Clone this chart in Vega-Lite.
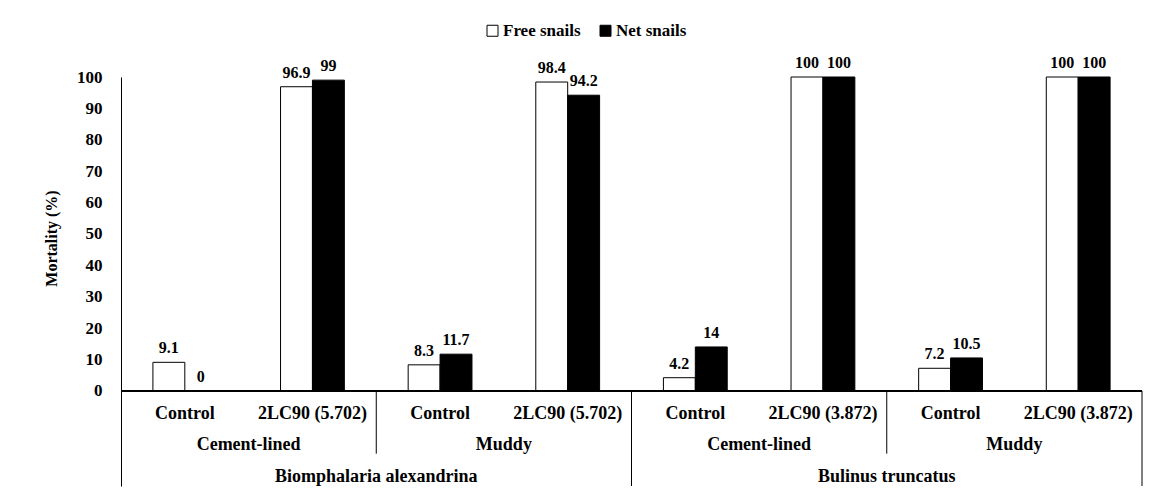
{
  "$schema": "https://vega.github.io/schema/vega-lite/v6.json",
  "width": 1021,
  "height": 409,
  "autosize": {"type": "none"},
  "padding": {"left": 121, "top": 77, "right": 12, "bottom": 11},
  "background": "white",
  "config": {"view": {"stroke": null}, "font": "Liberation Serif"},
  "data": {
    "values": [
      {"group": "Biomphalaria alexandrina|Cement-lined|Control", "species": "Biomphalaria alexandrina", "habitat": "Cement-lined", "treatment": "Control", "series": "Free snails", "mortality": 9.1},
      {"group": "Biomphalaria alexandrina|Cement-lined|Control", "species": "Biomphalaria alexandrina", "habitat": "Cement-lined", "treatment": "Control", "series": "Net snails", "mortality": 0},
      {"group": "Biomphalaria alexandrina|Cement-lined|2LC90", "species": "Biomphalaria alexandrina", "habitat": "Cement-lined", "treatment": "2LC90 (5.702)", "series": "Free snails", "mortality": 96.9},
      {"group": "Biomphalaria alexandrina|Cement-lined|2LC90", "species": "Biomphalaria alexandrina", "habitat": "Cement-lined", "treatment": "2LC90 (5.702)", "series": "Net snails", "mortality": 99},
      {"group": "Biomphalaria alexandrina|Muddy|Control", "species": "Biomphalaria alexandrina", "habitat": "Muddy", "treatment": "Control", "series": "Free snails", "mortality": 8.3},
      {"group": "Biomphalaria alexandrina|Muddy|Control", "species": "Biomphalaria alexandrina", "habitat": "Muddy", "treatment": "Control", "series": "Net snails", "mortality": 11.7},
      {"group": "Biomphalaria alexandrina|Muddy|2LC90", "species": "Biomphalaria alexandrina", "habitat": "Muddy", "treatment": "2LC90 (5.702)", "series": "Free snails", "mortality": 98.4},
      {"group": "Biomphalaria alexandrina|Muddy|2LC90", "species": "Biomphalaria alexandrina", "habitat": "Muddy", "treatment": "2LC90 (5.702)", "series": "Net snails", "mortality": 94.2},
      {"group": "Bulinus truncatus|Cement-lined|Control", "species": "Bulinus truncatus", "habitat": "Cement-lined", "treatment": "Control", "series": "Free snails", "mortality": 4.2},
      {"group": "Bulinus truncatus|Cement-lined|Control", "species": "Bulinus truncatus", "habitat": "Cement-lined", "treatment": "Control", "series": "Net snails", "mortality": 14},
      {"group": "Bulinus truncatus|Cement-lined|2LC90", "species": "Bulinus truncatus", "habitat": "Cement-lined", "treatment": "2LC90 (3.872)", "series": "Free snails", "mortality": 100},
      {"group": "Bulinus truncatus|Cement-lined|2LC90", "species": "Bulinus truncatus", "habitat": "Cement-lined", "treatment": "2LC90 (3.872)", "series": "Net snails", "mortality": 100},
      {"group": "Bulinus truncatus|Muddy|Control", "species": "Bulinus truncatus", "habitat": "Muddy", "treatment": "Control", "series": "Free snails", "mortality": 7.2},
      {"group": "Bulinus truncatus|Muddy|Control", "species": "Bulinus truncatus", "habitat": "Muddy", "treatment": "Control", "series": "Net snails", "mortality": 10.5},
      {"group": "Bulinus truncatus|Muddy|2LC90", "species": "Bulinus truncatus", "habitat": "Muddy", "treatment": "2LC90 (3.872)", "series": "Free snails", "mortality": 100},
      {"group": "Bulinus truncatus|Muddy|2LC90", "species": "Bulinus truncatus", "habitat": "Muddy", "treatment": "2LC90 (3.872)", "series": "Net snails", "mortality": 100}
    ]
  },
  "layer": [
    {
      "mark": {"type": "bar", "stroke": "black", "strokeWidth": 1},
      "encoding": {
        "x": {"field": "group", "type": "nominal", "sort": null, "scale": {"paddingInner": 0, "paddingOuter": 0}, "axis": null},
        "xOffset": {"field": "series", "type": "nominal", "sort": null, "scale": {"paddingInner": 0, "paddingOuter": 1}},
        "y": {
          "field": "mortality", "type": "quantitative",
          "scale": {"domain": [-30.3, 100], "nice": false, "zero": false},
          "axis": {
            "title": "Mortality (%)",
            "values": [0, 10, 20, 30, 40, 50, 60, 70, 80, 90, 100],
            "ticks": false, "grid": false,
            "domainColor": "black", "domainWidth": 1,
            "labelFont": "Liberation Serif", "labelFontWeight": "bold", "labelFontSize": 17, "labelColor": "black", "labelPadding": 19,
            "titleFont": "Liberation Serif", "titleFontWeight": "bold", "titleFontSize": 16, "titleColor": "black",
            "titleX": -70, "titleY": 161, "titleAngle": -90, "titleAlign": "center", "titleBaseline": "middle"
          }
        },
        "y2": {"datum": 0},
        "fill": {
          "field": "series", "type": "nominal",
          "scale": {"domain": ["Free snails", "Net snails"], "range": ["white", "black"]},
          "legend": {
            "orient": "none", "legendX": 363, "legendY": -55, "direction": "horizontal", "title": null,
            "symbolType": "square", "symbolSize": 121, "symbolStrokeColor": "black", "symbolStrokeWidth": 1,
            "labelFont": "Liberation Serif", "labelFontWeight": "bold", "labelFontSize": 17, "labelColor": "black",
            "labelOffset": 2, "columnPadding": 16
          }
        }
      }
    },
    {
      "mark": {"type": "text", "baseline": "alphabetic", "dy": -9, "fontSize": 16, "fontWeight": "bold", "font": "Liberation Serif", "color": "black"},
      "encoding": {
        "x": {"field": "group", "type": "nominal", "sort": null},
        "xOffset": {"field": "series", "type": "nominal", "sort": null},
        "y": {"field": "mortality", "type": "quantitative"},
        "text": {"field": "mortality", "type": "quantitative"}
      }
    },
    {
      "mark": {"type": "rule", "color": "black", "strokeWidth": 1},
      "encoding": {"y": {"datum": 0}}
    },
    {
      "transform": [{"filter": "datum.series === 'Free snails' && datum.habitat === 'Muddy' && datum.treatment === 'Control'"}],
      "mark": {"type": "rule", "color": "black", "strokeWidth": 1},
      "encoding": {
        "x": {"field": "group", "type": "nominal", "sort": null, "bandPosition": 0},
        "y": {"datum": 0},
        "y2": {"datum": -20}
      }
    },
    {
      "transform": [{"filter": "datum.series === 'Free snails' && datum.species === 'Bulinus truncatus' && datum.habitat === 'Cement-lined' && datum.treatment === 'Control'"}],
      "mark": {"type": "rule", "color": "black", "strokeWidth": 1},
      "encoding": {
        "x": {"field": "group", "type": "nominal", "sort": null, "bandPosition": 0},
        "y": {"datum": 0},
        "y2": {"datum": -30.3}
      }
    },
    {
      "transform": [{"filter": "datum.series === 'Free snails' && datum.species === 'Bulinus truncatus' && datum.habitat === 'Muddy' && datum.treatment !== 'Control'"}],
      "mark": {"type": "rule", "color": "black", "strokeWidth": 1},
      "encoding": {
        "x": {"field": "group", "type": "nominal", "sort": null, "bandPosition": 1},
        "y": {"datum": 0},
        "y2": {"datum": -30.3}
      }
    },
    {
      "transform": [{"filter": "datum.series === 'Free snails'"}],
      "mark": {"type": "text", "baseline": "middle", "fontSize": 18, "fontWeight": "bold", "font": "Liberation Serif", "color": "black"},
      "encoding": {
        "x": {"field": "group", "type": "nominal", "sort": null},
        "y": {"datum": -7.3},
        "text": {"field": "treatment"}
      }
    },
    {
      "transform": [{"filter": "datum.series === 'Free snails' && datum.treatment === 'Control'"}],
      "mark": {"type": "text", "baseline": "middle", "fontSize": 18, "fontWeight": "bold", "font": "Liberation Serif", "color": "black"},
      "encoding": {
        "x": {"field": "group", "type": "nominal", "sort": null, "bandPosition": 1},
        "y": {"datum": -17.2},
        "text": {"field": "habitat"}
      }
    },
    {
      "transform": [{"filter": "datum.series === 'Free snails' && datum.habitat === 'Cement-lined' && datum.treatment !== 'Control'"}],
      "mark": {"type": "text", "baseline": "middle", "fontSize": 18, "fontWeight": "bold", "font": "Liberation Serif", "color": "black"},
      "encoding": {
        "x": {"field": "group", "type": "nominal", "sort": null, "bandPosition": 1},
        "y": {"datum": -27.3},
        "text": {"field": "species"}
      }
    }
  ]
}
